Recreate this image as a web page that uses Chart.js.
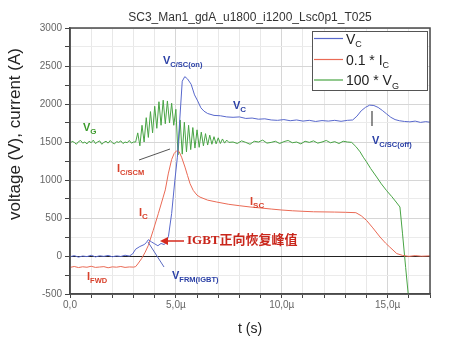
<!DOCTYPE html>
<html>
<head>
<meta charset="utf-8">
<script src="https://cdn.jsdelivr.net/npm/chart.js@4.4.1/dist/chart.umd.min.js"></script>
<style>
  html, body { margin: 0; padding: 0; background: #fff; }
  #wrap { width: 455px; height: 349px; }
</style>
</head>
<body>
<div id="wrap"><canvas id="chart" width="455" height="349"></canvas></div>
<script>
// time in µs
const tVC = [0, 0.2, 0.4, 0.6, 0.8, 1.0, 1.2, 1.4, 1.6, 1.8, 2.0, 2.2, 2.4, 2.6, 2.8,
  2.95, 3.1, 3.3, 3.5, 3.6, 3.7, 3.85, 4.0, 4.15, 4.3, 4.45, 4.55, 4.65, 4.8, 4.95,
  5.07, 5.18, 5.3, 5.42, 5.55, 5.72, 5.88, 6.03, 6.18, 6.33, 6.5, 6.8, 7.1, 7.4, 7.7,
  8.0, 8.3, 8.6, 8.9, 9.2, 9.5, 9.8, 10.1, 10.4, 10.7, 11.0, 11.3, 11.6, 11.9, 12.2,
  12.5, 12.8, 13.1, 13.35, 13.55, 13.75, 13.95, 14.15, 14.35, 14.55, 14.75, 14.95,
  15.15, 15.35, 15.55, 15.8, 16.05, 16.3, 16.55, 16.8, 17.0];
const vC = [-10, 5, -15, 0, -8, 10, -12, 3, -5, 8, -10, 2, -6, 10, 0,
  25, 90, 125, 150, 175, 215, 185, 160, 135, 165, 150, 185, 260, 560, 990,
  1300, 1780, 2300, 2360, 2330, 2260, 2120, 2040, 1950, 1905, 1875, 1850, 1845, 1830, 1825,
  1830, 1810, 1815, 1800, 1805, 1790, 1785, 1795, 1780, 1790, 1775, 1785, 1770, 1782, 1775,
  1785, 1772, 1785, 1790, 1840, 1910, 1955, 1985, 1980, 1955, 1915, 1870,
  1825, 1795, 1780, 1770, 1765, 1775, 1758, 1768, 1760];

// 0.1 * I_C
const tIC = [0, 0.2, 0.4, 0.6, 0.8, 1.0, 1.2, 1.4, 1.6, 1.8, 2.0, 2.2, 2.4, 2.6, 2.8, 3.0,
  3.1, 3.2, 3.38, 3.55, 3.7, 3.93, 4.17, 4.4, 4.5, 4.64, 4.8, 4.92, 5.04, 5.15, 5.27,
  5.43, 5.55, 5.67, 5.82, 6.0, 6.14, 6.5, 6.93, 7.5, 8.0, 8.5, 9.0, 9.5, 10.0, 10.5,
  11.0, 11.5, 12.0, 12.5, 13.0, 13.5, 13.75, 14.0, 14.3, 14.64, 14.9, 15.1, 15.43,
  15.7, 16.0, 16.3, 16.6, 17.0];
const iC = [-150, -138, -152, -142, -148, -135, -150, -145, -140, -155, -143, -147, -138, -150, -144, -146,
  -140, -105, -35, 50, 140, 338, 557, 775, 870, 1080, 1270, 1350, 1385, 1375, 1300,
  1170, 1060, 951, 863, 800, 775, 735, 710, 680, 662, 645, 632, 618, 605, 595,
  588, 582, 580, 578, 575, 570, 530, 469, 370, 250, 170, 118, 32,
  8, -5, 5, -3, 2];

// 100 * V_G
const tVG = [0, 0.1, 0.2, 0.3, 0.4, 0.5, 0.6, 0.7, 0.8, 0.9, 1.0, 1.1, 1.2, 1.3, 1.4, 1.5,
  1.6, 1.7, 1.8, 1.9, 2.0, 2.1, 2.2, 2.3, 2.4, 2.5, 2.6, 2.7, 2.8, 2.9, 3.0,
  3.1, 3.2, 3.3, 3.4, 3.5, 3.6, 3.7, 3.8, 3.9, 4.0, 4.1, 4.2, 4.3, 4.4, 4.5, 4.6, 4.7,
  4.8, 4.9, 5.0, 5.1, 5.2, 5.3, 5.4, 5.5, 5.6, 5.7, 5.8, 5.9, 6.0, 6.1, 6.2, 6.3, 6.4,
  6.5, 6.6, 6.7, 6.8, 6.9, 7.0, 7.1, 7.2, 7.3, 7.4, 7.5,
  7.7, 7.9, 8.1, 8.3, 8.5, 8.7, 8.9, 9.1, 9.3, 9.5, 9.7, 9.9, 10.1, 10.3, 10.5, 10.7,
  10.9, 11.1, 11.3, 11.5, 11.7, 11.9, 12.1, 12.3, 12.5, 12.7, 12.9, 13.1,
  13.3, 13.5, 13.7, 13.85, 14.0, 14.2, 14.48, 14.7, 14.95, 15.2, 15.4, 15.58, 15.7,
  15.85, 15.97, 16.2];
const vG = [1480, 1510, 1495, 1470, 1505, 1520, 1485, 1500, 1475, 1510, 1490, 1525, 1480, 1500, 1515, 1470,
  1495, 1510, 1485, 1520, 1490, 1475, 1505, 1495, 1515, 1480, 1500, 1490, 1520, 1485, 1500,
  1500, 1620, 1450, 1720, 1500, 1820, 1560, 1900, 1620, 1970, 1680, 2030, 1720, 2050, 1740, 2040, 1750,
  2010, 1720, 1930, 1330, 1790, 1340, 1760, 1370, 1720, 1400, 1690, 1420, 1660, 1430, 1630, 1450, 1610,
  1460, 1590, 1470, 1570, 1475, 1555, 1480, 1540, 1485, 1525, 1495,
  1500, 1480, 1515, 1495, 1470, 1510, 1500, 1525, 1485, 1495, 1510, 1480, 1505, 1520, 1490, 1500,
  1475, 1510, 1495, 1515, 1485, 1500, 1520, 1490, 1505, 1480, 1510, 1500,
  1495, 1440, 1370, 1300, 1240, 1150, 1040, 950, 860, 780, 710, 645, 300,
  -150, -500, -1200];

const xLabels = { 0: '0,0', 5: '5,0µ', 10: '10,0µ', 15: '15,0µ' };
const yLabels = [-500, 0, 500, 1000, 1500, 2000, 2500, 3000];

const BLUE = '#5868cc', RED = '#ea6a55', GREEN = '#48a444';
const FONT = '"Liberation Sans", Arial, sans-serif';

const pts = (xs, ys) => xs.map((x, i) => ({ x: x, y: ys[i] }));

function subText(ctx, x, y, main, sub, color, size, subSize, weight) {
  ctx.fillStyle = color;
  ctx.textAlign = 'left';
  ctx.textBaseline = 'alphabetic';
  ctx.font = weight + ' ' + size + 'px ' + FONT;
  ctx.fillText(main, x, y);
  const w = ctx.measureText(main).width;
  ctx.font = weight + ' ' + subSize + 'px ' + FONT;
  ctx.fillText(sub, x + w, y + size * 0.28);
}

function line(ctx, x1, y1, x2, y2, color, w) {
  ctx.strokeStyle = color;
  ctx.lineWidth = w;
  ctx.beginPath();
  ctx.moveTo(x1, y1);
  ctx.lineTo(x2, y2);
  ctx.stroke();
}

const decor = {
  id: 'decor',
  afterDraw(chart) {
    const ctx = chart.ctx;
    const a = chart.chartArea;
    ctx.save();

    // frame
    ctx.strokeStyle = '#4a4a4a';
    ctx.lineWidth = 1.5;
    ctx.strokeRect(a.left, a.top, a.right - a.left, a.bottom - a.top);

    // title
    ctx.fillStyle = '#333';
    ctx.font = '12px ' + FONT;
    ctx.textAlign = 'center';
    ctx.textBaseline = 'middle';
    ctx.fillText('SC3_Man1_gdA_u1800_i1200_Lsc0p1_T025', (a.left + a.right) / 2, 18);

    // axis titles
    ctx.font = '14px ' + FONT;
    ctx.fillStyle = '#222';
    ctx.fillText('t (s)', (a.left + a.right) / 2, 329);
    ctx.save();
    ctx.translate(15, 134);
    ctx.rotate(-Math.PI / 2);
    ctx.font = '17px ' + FONT;
    ctx.fillText('voltage (V), current (A)', 0, 0);
    ctx.restore();

    // legend
    ctx.fillStyle = '#fff';
    ctx.fillRect(312, 31, 116, 60);
    ctx.strokeStyle = '#555';
    ctx.lineWidth = 1;
    ctx.strokeRect(312.5, 31.5, 115, 59);
    const items = [
      [BLUE, 'V', 'C', 38.5],
      [RED, '0.1 * I', 'C', 59.5],
      [GREEN, '100 * V', 'G', 80]
    ];
    items.forEach(([c, m, s, y]) => {
      line(ctx, 314, y, 343, y, c, 1.2);
      subText(ctx, 346, y + 5, m, s, '#222', 14, 9, 'normal');
    });

    // curve labels
    const dBlue = '#2b40a6', dRed = '#d8412c', dGreen = '#3a9a2a';
    subText(ctx, 163, 64, 'V', 'C/SC(on)', dBlue, 11, 7.5, 'bold');
    subText(ctx, 233, 109, 'V', 'C', dBlue, 11, 8, 'bold');
    subText(ctx, 83, 131, 'V', 'G', dGreen, 11, 8, 'bold');
    subText(ctx, 117, 172, 'I', 'C/SCM', dRed, 11, 7.5, 'bold');
    subText(ctx, 139, 216, 'I', 'C', dRed, 11, 8, 'bold');
    subText(ctx, 250, 205, 'I', 'SC', dRed, 11, 8, 'bold');
    subText(ctx, 87, 280, 'I', 'FWD', dRed, 11, 7.5, 'bold');
    subText(ctx, 172, 279, 'V', 'FRM(IGBT)', dBlue, 11, 7.5, 'bold');
    subText(ctx, 372, 144, 'V', 'C/SC(off)', dBlue, 11, 7.5, 'bold');

    // leader lines
    line(ctx, 139, 160, 170, 149, '#555', 1);
    line(ctx, 148, 242, 164, 267, '#5a6ac0', 1);
    line(ctx, 372, 111, 372, 126, '#444', 1.2);

    // arrow to the forward recovery peak
    const ac = '#d42a1e';
    line(ctx, 184, 241, 166, 241, ac, 1.5);
    ctx.fillStyle = ac;
    ctx.beginPath();
    ctx.moveTo(160, 241);
    ctx.lineTo(168, 237);
    ctx.lineTo(168, 245);
    ctx.closePath();
    ctx.fill();
    ctx.font = 'bold 13px "Liberation Serif", "Noto Sans CJK SC", serif';
    ctx.textAlign = 'left';
    ctx.textBaseline = 'middle';
    ctx.fillStyle = '#c9261b';
    ctx.fillText('IGBT正向恢复峰值', 187, 241);

    ctx.restore();
  }
};

new Chart(document.getElementById('chart'), {
  type: 'line',
  data: {
    datasets: [
      { label: 'V_C', data: pts(tVC, vC), borderColor: BLUE },
      { label: '0.1 * I_C', data: pts(tIC, iC), borderColor: RED },
      { label: '100 * V_G', data: pts(tVG, vG), borderColor: GREEN }
    ]
  },
  options: {
    responsive: false,
    animation: false,
    layout: { padding: { top: 28, right: 25, left: 0, bottom: 0 } },
    elements: {
      point: { radius: 0 },
      line: { borderWidth: 1, tension: 0 }
    },
    plugins: { legend: { display: false }, tooltip: { enabled: false } },
    scales: {
      x: {
        type: 'linear',
        min: 0,
        max: 17,
        afterFit: s => { s.height = 55; },
        ticks: {
          stepSize: 1,
          autoSkip: false,
          maxRotation: 0,
          padding: 1,
          color: '#666',
          font: { size: 10, family: FONT },
          callback: v => xLabels[v] || ''
        },
        grid: {
          color: c => (c.tick && c.tick.value % 5 === 0 ? '#d6d6d6' : '#e8e8e8'),
          tickColor: '#444',
          tickLength: 4,
          lineWidth: 1
        },
        border: { color: '#4a4a4a', width: 1.5 }
      },
      y: {
        min: -500,
        max: 3000,
        afterFit: s => { s.width = 70; },
        ticks: {
          stepSize: 250,
          autoSkip: false,
          padding: 3,
          color: '#666',
          font: { size: 10, family: FONT },
          callback: v => (yLabels.includes(v) ? String(v) : '')
        },
        grid: {
          color: c => {
            const v = c.tick ? c.tick.value : 1;
            if (v === 0) return '#222';
            return v % 500 === 0 ? '#d6d6d6' : '#ebebeb';
          },
          tickColor: '#444',
          tickLength: 5,
          lineWidth: 1
        },
        border: { color: '#4a4a4a', width: 1.5 }
      }
    }
  },
  plugins: [decor]
});
</script>
</body>
</html>
